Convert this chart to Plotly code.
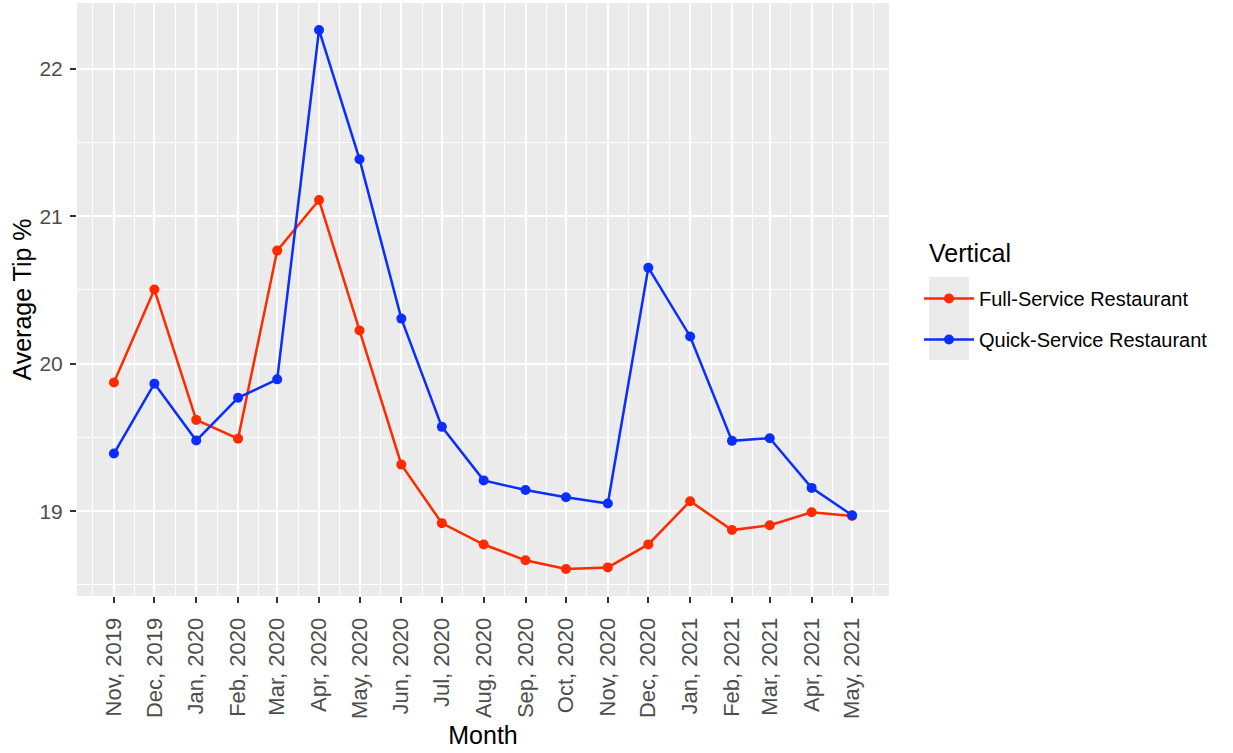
import plotly.graph_objects as go

months = ["2019-11-01", "2019-12-01", "2020-01-01", "2020-02-01", "2020-03-01",
          "2020-04-01", "2020-05-01", "2020-06-01", "2020-07-01", "2020-08-01",
          "2020-09-01", "2020-10-01", "2020-11-01", "2020-12-01", "2021-01-01",
          "2021-02-01", "2021-03-01", "2021-04-01", "2021-05-01"]
tick_labels = ["Nov, 2019", "Dec, 2019", "Jan, 2020", "Feb, 2020", "Mar, 2020",
               "Apr, 2020", "May, 2020", "Jun, 2020", "Jul, 2020", "Aug, 2020",
               "Sep, 2020", "Oct, 2020", "Nov, 2020", "Dec, 2020", "Jan, 2021",
               "Feb, 2021", "Mar, 2021", "Apr, 2021", "May, 2021"]
full_service = [19.873, 20.503, 19.619, 19.492, 20.767, 21.110, 20.226, 19.316,
                18.919, 18.774, 18.667, 18.608, 18.619, 18.775, 19.068, 18.872,
                18.905, 18.993, 18.968]
quick_service = [19.391, 19.865, 19.479, 19.769, 19.894, 22.263, 21.387, 20.306,
                 19.572, 19.209, 19.144, 19.095, 19.052, 20.651, 20.185, 19.477,
                 19.495, 19.158, 18.973]
series_names = ["Full-Service Restaurant", "Quick-Service Restaurant"]
series_colors = ["#FF2A00", "#0A2EFF"]
legend_title = "Vertical"

W, H = 1233, 753
ML, MR, MT, MB = 77, 344, 3, 157
PW, PH = W - ML - MR, H - MT - MB

fig = go.Figure()
for name, vals, col, grp in zip(series_names, [full_service, quick_service],
                                series_colors, ["a", "b"]):
    fig.add_trace(go.Scatter(
        x=months, y=vals, name=name, mode="lines+markers", legendgroup=grp,
        line=dict(color=col, width=2.5),
        marker=dict(color=col, size=10),
    ))

def px_x(p):
    return (p - ML) / PW

def px_y(p):
    return (H - MB - p) / PH

# grey legend key background (ggplot style)
fig.add_shape(type="rect", xref="paper", yref="paper",
              x0=px_x(929), x1=px_x(969), y0=px_y(360), y1=px_y(277),
              fillcolor="#EBEBEB", line=dict(width=0), layer="below")

# legend title
fig.add_annotation(text=legend_title, xref="paper", yref="paper",
                   x=px_x(927), y=px_y(253), xanchor="left", yanchor="middle",
                   showarrow=False, font=dict(size=25, color="black"))

font_family = "Liberation Sans, Arial, sans-serif"
fig.update_layout(
    width=W, height=H,
    margin=dict(l=ML, r=MR, t=MT, b=MB),
    paper_bgcolor="white", plot_bgcolor="#EBEBEB",
    font=dict(family=font_family, color="black"),
    showlegend=True,
    legend=dict(
        font=dict(size=20, color="black"),
        x=px_x(919), xanchor="left", y=px_y(279), yanchor="top",
        bgcolor="rgba(0,0,0,0)", tracegroupgap=12, itemwidth=50,
    ),
    xaxis=dict(
        type="date",
        range=["2019-10-04 15:36", "2021-05-28 08:24"],
        tickmode="array", tickvals=months, ticktext=tick_labels,
        tickangle=-90,
        tickfont=dict(size=22, color="#4D4D4D"),
        ticks="outside", ticklen=6, tickwidth=2, tickcolor="#333333",
        ticklabelstandoff=6,
        showgrid=True, gridcolor="white", gridwidth=2,
        minor=dict(showgrid=True, gridcolor="white", gridwidth=1,
                   tick0="2019-10-16 12:00", dtick="M1"),
        zeroline=False, showline=False,
        title=dict(text="Month", font=dict(size=25, color="black"), standoff=8),
    ),
    yaxis=dict(
        range=[18.425, 22.446],
        tickmode="array", tickvals=[19, 20, 21, 22],
        tickfont=dict(size=21, color="#4D4D4D"),
        ticks="outside", ticklen=6, tickwidth=2, tickcolor="#333333",
        ticklabelstandoff=3,
        showgrid=True, gridcolor="white", gridwidth=2,
        minor=dict(showgrid=True, gridcolor="white", gridwidth=1,
                   tickvals=[18.5, 19.5, 20.5, 21.5, 22.5]),
        zeroline=False, showline=False,
        title=dict(text="Average Tip %", font=dict(size=25, color="black"), standoff=0),
    ),
)

fig.write_html("out.html", config={"displayModeBar": False},
               post_script="document.body.style.margin='0';")
